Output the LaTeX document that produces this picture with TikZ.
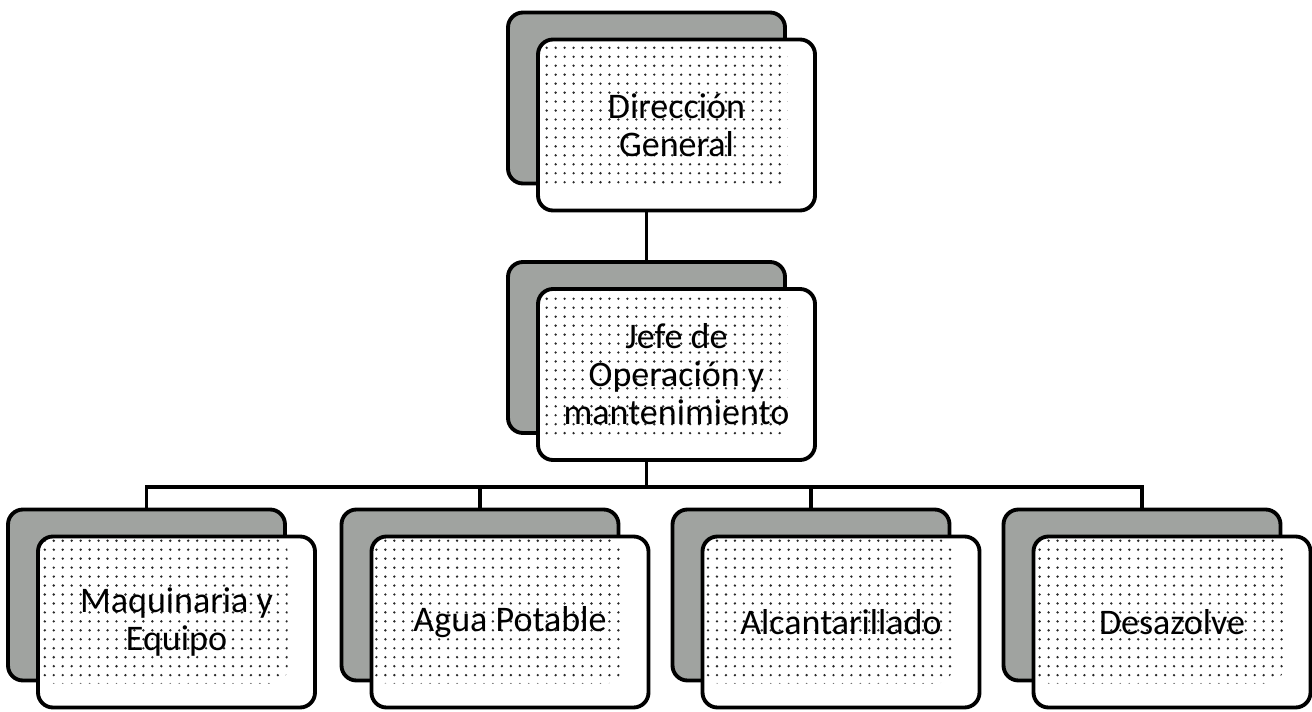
\documentclass[tikz,border=0pt]{standalone}
\usepackage{fontspec}
\setmainfont{Carlito}
\usetikzlibrary{calc,patterns.meta}
\definecolor{shadegray}{RGB}{160,163,160}
\definecolor{dotgray}{RGB}{40,40,40}
\newlength{\Cxa}
\newlength{\Cxb}
\newlength{\Cxc}
\newlength{\Cxd}
\newlength{\Cxm}
\newlength{\Cya}
\newlength{\Cyb}
\newlength{\Cyc}
\newlength{\Cye}
\setlength{\Cxa}{2.93cm}
\setlength{\Cxb}{9.60cm}
\setlength{\Cxc}{16.22cm}
\setlength{\Cxd}{22.84cm}
\setlength{\Cxm}{12.93cm}
\setlength{\Cya}{2.32cm}
\setlength{\Cyb}{7.27cm}
\setlength{\Cyc}{12.26cm}
\setlength{\Cye}{4.48cm}
\tikzset{
  backbox/.style={draw, line width=2.2pt, rounded corners=0.3cm,
    fill=shadegray, minimum width=5.54cm, minimum height=3.42cm,
    inner sep=0pt},
  frontbox/.style={backbox, fill=white, align=center,
    font=\fontsize{20.5}{21.6}\selectfont,
    path picture={
      \fill[pattern={Dots[radius=0.75pt,distance=5.1pt]}, pattern color=dotgray]
        (path picture bounding box.north west) rectangle
        ($(path picture bounding box.south east)+(-0.55,0.48)$);
    }},
  link/.style={line width=2.2pt}
}

\begin{document}
\begin{tikzpicture}

    \useasboundingbox (0,0) rectangle (26.24,14.22);

    \coordinate (shift) at (0.6,-0.54);
    \coordinate (bar) at (\Cxm,\Cye);

    % back cards
    \node[backbox] (dirB)  at (\Cxm,\Cyc) {};
    \node[backbox] (jefeB) at (\Cxm,\Cyb) {};
    \node[backbox] (maqB)  at (\Cxa,\Cya) {};
    \node[backbox] (aguaB) at (\Cxb,\Cya) {};
    \node[backbox] (alcB)  at (\Cxc,\Cya) {};
    \node[backbox] (desB)  at (\Cxd,\Cya) {};

    \draw[link] (dirB) -- (jefeB);
    \draw[link] (jefeB.south) -- (bar);
    \draw[link] (bar) -| (maqB.north);
    \draw[link] (bar) -| (aguaB.north);
    \draw[link] (bar) -| (alcB.north);
    \draw[link] (bar) -| (desB.north);

    % front cards
    \node[frontbox] (dir)  at ($(dirB)+(shift)$)  {Dirección\\General};
    \node[frontbox] (jefe) at ($(jefeB)+(shift)$) {Jefe de\\Operación y\\mantenimiento};
    \node[frontbox] (maq)  at ($(maqB)+(shift)$)  {Maquinaria y\\Equipo};
    \node[frontbox] (agua) at ($(aguaB)+(shift)$) {Agua Potable};
    \node[frontbox] (alc)  at ($(alcB)+(shift)$)  {Alcantarillado};
    \node[frontbox] (des)  at ($(desB)+(shift)$)  {Desazolve};

\end{tikzpicture}
\end{document}
